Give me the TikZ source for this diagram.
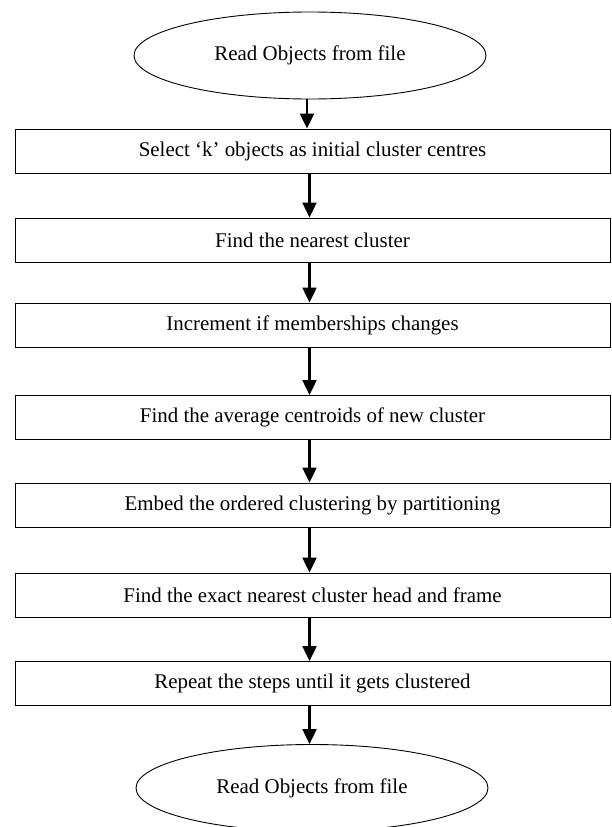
\documentclass[tikz,border=0pt]{standalone}
\usepackage{fontspec}
\setmainfont{Liberation Serif}
\usetikzlibrary{shapes.geometric}
\usetikzlibrary{arrows.meta}

\begin{document}
\begin{tikzpicture}[x=1bp,y=-1bp,
    stepbox/.style={draw,line width=0.9bp,minimum width=595bp,minimum height=44bp,inner sep=0pt},
    endpoint/.style={draw,ellipse,line width=0.9bp,minimum width=352bp,minimum height=87bp,inner sep=0pt},
    flow/.style={-{Triangle[length=15bp,width=14bp]},line width=2.2bp},
    font=\fontsize{21}{25}\selectfont]
    \useasboundingbox (0,0) rectangle (612,827);
    \node[endpoint] (start) at (310,55.5) {Read Objects from file};
    \node[stepbox] (s1) at (312.5,151) {Select ‘k’ objects as initial cluster centres};
    \node[stepbox] (s2) at (312.5,240) {Find the nearest cluster};
    \node[stepbox] (s3) at (312.5,325) {Increment if memberships changes};
    \node[stepbox] (s4) at (312.5,417.5) {Find the average centroids of new cluster};
    \node[stepbox] (s5) at (312.5,505) {Embed the ordered clustering by partitioning};
    \node[stepbox] (s6) at (312.5,595) {Find the exact nearest cluster head and frame};
    \node[stepbox] (s7) at (312.5,683.5) {Repeat the steps until it gets clustered};
    \node[endpoint] (stop) at (312,788) {Read Objects from file};
    \foreach \a/\b in {start/s1,s1/s2,s2/s3,s3/s4,s4/s5,s5/s6,s6/s7,s7/stop}
      \draw[flow] ([xshift=-3bp]\a.south) -- ([xshift=-3bp]\a.south |- \b.north);
\end{tikzpicture}
\end{document}
